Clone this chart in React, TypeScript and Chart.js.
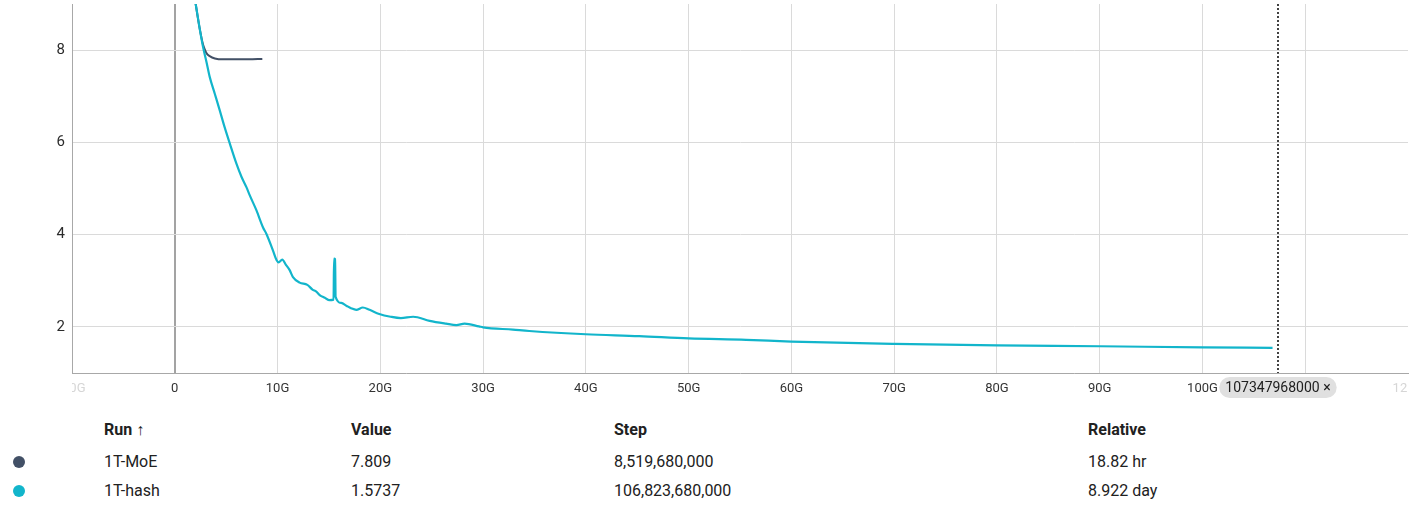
import React, { useEffect, useRef } from "react";
import { Chart, registerables } from "chart.js";

Chart.register(...registerables);

// ---- data (steps in units of 1e9) ----
const hashSteps = [
  2.0, 2.04, 2.4, 2.75, 3.08, 3.4, 3.9, 4.37, 4.85, 5.35, 6.0, 6.5, 6.97, 7.3, 7.94, 8.6, 8.91, 9.55,
  9.9, 10.1, 10.46, 10.8, 11.18, 11.5, 12.15, 12.9, 13.4, 13.8, 14.1, 14.6, 15.06, 15.45, 15.5, 15.6,
  15.65, 16.2, 16.7, 17.2, 17.66, 18.3, 18.95, 19.9, 21.0, 22.0, 23.2, 24.8, 26.4, 27.4, 28.2, 29.6,
  30.0, 32.9, 34.5, 40.0, 45.2, 50.0, 55.6, 60.0, 70.0, 80.0, 90.0, 100.0, 106.82,
];
const hashValues = [
  9.05, 8.99, 8.5, 8.07, 7.75, 7.42, 7.05, 6.7, 6.33, 5.98, 5.54, 5.25, 5.03, 4.85, 4.53, 4.15, 4.02, 3.66,
  3.45, 3.4, 3.46, 3.35, 3.23, 3.08, 2.96, 2.91, 2.81, 2.76, 2.69, 2.63, 2.58, 2.59, 3.48, 3.47,
  2.65, 2.52, 2.46, 2.4, 2.37, 2.42, 2.37, 2.28, 2.22, 2.19, 2.22, 2.13, 2.07, 2.04, 2.07, 2.01,
  1.99, 1.94, 1.91, 1.84, 1.8, 1.75, 1.72, 1.68, 1.63, 1.6, 1.58, 1.555, 1.545,
];
const moeSteps = [2.0, 2.4, 2.75, 2.95, 3.1, 3.4, 3.9, 4.7, 6.0, 7.2, 8.52];
const moeValues = [9.05, 8.5, 8.12, 8.0, 7.93, 7.87, 7.82, 7.8, 7.8, 7.8, 7.809];

const xTickValues = [-10, 0, 10, 20, 30, 40, 50, 60, 70, 80, 90, 100, 110, 120];
const yTickValues = [2, 4, 6, 8];
const markerStep = 107347968000;

const runNames = ["1T-MoE", "1T-hash"];
const runColors = ["#425066", "#12b5cb"];
const runValues = ["7.809", "1.5737"];
const runStepsText = ["8,519,680,000", "106,823,680,000"];
const runRelative = ["18.82 hr", "8.922 day"];

const G = 1e9;

const TEXT = "#212121";

export default function App() {
  const ref = useRef<HTMLCanvasElement | null>(null);

  useEffect(() => {
    const canvas = ref.current;
    if (!canvas) return;

    const clipPlugin = {
      id: "clipXLabels",
      beforeDraw(chart: any) {
        const s: any = chart.scales.x;
        if (!s || s.__patched) return;
        const orig = s.drawLabels.bind(s);
        s.drawLabels = (area: any) => {
          const c = chart.ctx;
          c.save();
          c.beginPath();
          c.rect(chart.chartArea.left, 0, chart.chartArea.right - chart.chartArea.left, chart.height);
          c.clip();
          orig(area);
          c.restore();
        };
        s.__patched = true;
      },
    };

    const markerPlugin = {
      id: "marker",
      afterDatasetsDraw(chart: any) {
        const c = chart.ctx;
        const a = chart.chartArea;
        const x = Math.round(chart.scales.x.getPixelForValue(markerStep));
        c.save();
        c.strokeStyle = "#424242";
        c.lineWidth = 2;
        c.setLineDash([2, 2]);
        c.beginPath();
        c.moveTo(x, a.top);
        c.lineTo(x, a.bottom);
        c.stroke();
        c.restore();
      },
      afterDraw(chart: any) {
        const c = chart.ctx;
        const a = chart.chartArea;
        const x = chart.scales.x.getPixelForValue(markerStep);
        const label = String(markerStep) + " \u00d7";
        c.save();
        c.font = "14px Roboto";
        const w = c.measureText(label).width + 12;
        const h = 21;
        const top = a.bottom + 4;
        c.fillStyle = "#e0e0e0";
        c.beginPath();
        (c as any).roundRect(x - w / 2, top, w, h, h / 2);
        c.fill();
        c.fillStyle = TEXT;
        c.textAlign = "center";
        c.textBaseline = "middle";
        c.fillText(label, x, top + h / 2 + 0.5);
        // resize grip
        c.strokeStyle = "#777";
        c.lineWidth = 1;
        c.beginPath();
        c.moveTo(1402, 411);
        c.lineTo(1408, 405);
        c.moveTo(1405, 411);
        c.lineTo(1408, 408);
        c.stroke();
        c.restore();
      },
    };

    const chart = new Chart(canvas, {
      type: "line",
      data: {
        datasets: [
          {
            label: runNames[1],
            data: hashSteps.map((s, i) => ({ x: s * G, y: hashValues[i] })),
            borderColor: runColors[1],
            borderWidth: 2.2,
            pointRadius: 0,
            cubicInterpolationMode: "monotone",
          },
          {
            label: runNames[0],
            data: moeSteps.map((s, i) => ({ x: s * G, y: moeValues[i] })),
            borderColor: runColors[0],
            borderWidth: 2,
            pointRadius: 0,
            cubicInterpolationMode: "monotone",
          },
        ],
      },
      options: {
        animation: false,
        responsive: false,
        events: [],
        layout: { padding: { top: 4, right: 12, left: 0, bottom: 0 } },
        plugins: { legend: { display: false }, tooltip: { enabled: false } },
        scales: {
          x: {
            type: "linear",
            min: -10 * G,
            max: 120 * G,
            afterBuildTicks: (s: any) => {
              s.ticks = xTickValues.map((v) => ({ value: v * G }));
            },
            afterFit: (s: any) => {
              s.height = 27;
              s.paddingLeft = 0;
              s.paddingRight = 0;
              s.paddingTop = 0;
              s.paddingBottom = 0;
            },
            ticks: {
              autoSkip: false,
              maxRotation: 0,
              padding: 8,
              font: { family: "Roboto", size: 13 },
              color: (ctx: any) => {
                const v = ctx.tick ? ctx.tick.value : 0;
                return v === -10 * G || v === 120 * G ? "#d6d6d6" : "#333333";
              },
              callback: (v: any) => (Number(v) === 0 ? "0" : Math.round(Number(v) / G) + "G"),
            },
            grid: {
              drawTicks: false,
              color: (ctx: any) => {
                const v = ctx.tick ? ctx.tick.value : 1;
                if (v === 0) return "#a3a3a3";
                if (v === -10 * G || v === 120 * G) return "rgba(0,0,0,0)";
                return "#dadada";
              },
              lineWidth: (ctx: any) => (ctx.tick && ctx.tick.value === 0 ? 2 : 1),
            },
            border: { color: "#a8a8a8", width: 1 },
          },
          y: {
            type: "linear",
            min: 1,
            max: 9,
            afterBuildTicks: (s: any) => {
              s.ticks = yTickValues.map((v) => ({ value: v }));
            },
            afterFit: (s: any) => {
              s.width = 72;
              s.paddingLeft = 0;
              s.paddingRight = 0;
              s.paddingTop = 0;
              s.paddingBottom = 0;
            },
            ticks: {
              padding: 7,
              font: { family: "Roboto", size: 15 },
              color: "#2b2b2b",
              callback: (v: any) => String(v),
            },
            grid: { drawTicks: false, color: "#dadada", lineWidth: 1 },
            border: { color: "#a8a8a8", width: 1 },
          },
        },
      },
      plugins: [clipPlugin, markerPlugin],
    } as any);

    return () => chart.destroy();
  }, []);

  const cell = (left: number, cy: number, text: string, bold = false): React.ReactNode => (
    <div
      key={left + "-" + cy}
      style={{
        position: "absolute",
        left,
        top: cy - 10,
        height: 20,
        lineHeight: "20px",
        fontSize: 16,
        fontFamily: "Roboto, sans-serif",
        fontWeight: bold ? 700 : 400,
        color: TEXT,
        whiteSpace: "nowrap",
      }}
    >
      {text}
    </div>
  );

  const rowY = [461.5, 491];

  return (
    <div style={{ position: "absolute", left: 0, top: 0, width: 1420, height: 523, background: "#fff" }}>
      <canvas ref={ref} width={1420} height={400} style={{ position: "absolute", left: 0, top: 0, width: 1420, height: 400 }} />
      {cell(104, 430, "Run \u2191", true)}
      {cell(351, 430, "Value", true)}
      {cell(614, 430, "Step", true)}
      {cell(1088, 430, "Relative", true)}
      {runNames.map((n, i) => (
        <React.Fragment key={n}>
          <div
            style={{
              position: "absolute",
              left: 13,
              top: rowY[i] - 6,
              width: 12,
              height: 12,
              borderRadius: 6,
              background: runColors[i],
            }}
          />
          {cell(104, rowY[i], n)}
          {cell(351, rowY[i], runValues[i])}
          {cell(614, rowY[i], runStepsText[i])}
          {cell(1088, rowY[i], runRelative[i])}
        </React.Fragment>
      ))}
    </div>
  );
}
